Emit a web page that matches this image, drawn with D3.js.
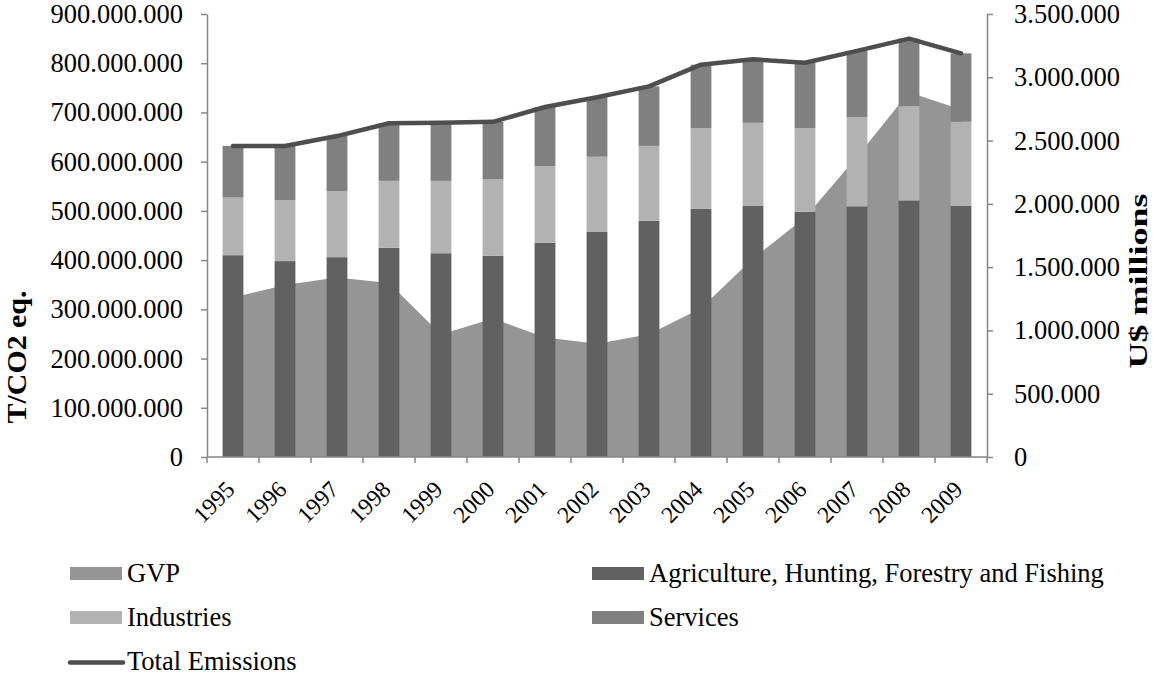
<!DOCTYPE html>
<html>
<head>
<meta charset="utf-8">
<script src="https://cdn.jsdelivr.net/npm/d3@7"></script>
<style>
  html, body { margin: 0; padding: 0; background: #fff; }
  svg { display: block; font-family: "Liberation Serif", "Times New Roman", Times, serif; }
</style>
</head>
<body>
<svg id="chart" width="1153" height="678"></svg>
<script>
// ---- Data ----
const years = ["1995","1996","1997","1998","1999","2000","2001","2002","2003","2004","2005","2006","2007","2008","2009"];
// Emissions by sector, T/CO2 eq.
const agriculture = [410000000, 398000000, 406000000, 425000000, 414000000, 409000000, 435000000, 458000000, 480000000, 504000000, 510000000, 498000000, 509000000, 521000000, 510000000];
const industries  = [117000000, 124000000, 134000000, 136000000, 147000000, 155000000, 156000000, 152000000, 152000000, 164000000, 169000000, 170000000, 181000000, 192000000, 171000000];
const services    = [105000000, 110000000, 112000000, 117000000, 118000000, 117000000, 120000000, 121000000, 121000000, 129000000, 129000000, 133000000, 135000000, 137000000, 139000000];
const totalEmissions = [632000000, 632000000, 652000000, 678000000, 679000000, 681000000, 711000000, 731000000, 753000000, 797000000, 808000000, 801000000, 825000000, 850000000, 820000000];
// Gross value of production, U$ millions (secondary axis)
const gvp = [1260000, 1359000, 1418000, 1374000, 968000, 1094000, 944000, 895000, 969000, 1176000, 1568000, 1892000, 2373000, 2881000, 2746000];
const leftTicks  = [0, 100000000, 200000000, 300000000, 400000000, 500000000, 600000000, 700000000, 800000000, 900000000];
const rightTicks = [0, 500000, 1000000, 1500000, 2000000, 2500000, 3000000, 3500000];
const seriesNames = ["GVP", "Agriculture, Hunting, Forestry and Fishing", "Industries", "Services", "Total Emissions"];

// ---- Styles ----
const FONT = '"Liberation Serif", "Times New Roman", Times, serif';
const C = {
  gvp: "#959595", agri: "#616161", ind: "#b2b2b2", serv: "#808080",
  line: "#4e4e4e", axis: "#868686"
};

const svg = d3.select("#chart");
svg.append("rect").attr("width", 1153).attr("height", 678).attr("fill", "#fff");

const L = 207, R = 987, T = 14, B = 457;

const x = d3.scaleBand().domain(years).range([L, R]).paddingInner(0.6).paddingOuter(0.3);
const xCell = d3.scaleBand().domain(years).range([L, R]).padding(0);
const cx = d => xCell(d) + xCell.bandwidth() / 2;
const yL = d3.scaleLinear().domain([0, 900000000]).range([B, T]);
const yR = d3.scaleLinear().domain([0, 3500000]).range([B, T]);

const loc = d3.formatLocale({decimal: ",", thousands: ".", grouping: [3], currency: ["", ""]});
const fmt = loc.format(",");

// ---- GVP area (secondary axis) ----
const gvpData = years.map((y, i) => ({year: y, v: gvp[i]}));
svg.append("path")
  .datum(gvpData)
  .attr("fill", C.gvp)
  .attr("d", d3.area().x(d => cx(d.year)).y0(yR(0)).y1(d => yR(d.v)));

// ---- Stacked bars ----
const stackRows = years.map((y, i) => ({year: y, agri: agriculture[i], ind: industries[i], serv: services[i]}));
const stack = d3.stack().keys(["agri", "ind", "serv"])(stackRows);
const colors = {agri: C.agri, ind: C.ind, serv: C.serv};
svg.append("g").selectAll("g").data(stack).join("g")
  .attr("fill", s => colors[s.key])
  .selectAll("rect").data(s => s).join("rect")
  .attr("x", d => x(d.data.year))
  .attr("width", x.bandwidth())
  .attr("y", d => yL(d[1]))
  .attr("height", d => yL(d[0]) - yL(d[1]));

// ---- Total emissions line ----
svg.append("path")
  .datum(years.map((y, i) => ({year: y, v: totalEmissions[i]})))
  .attr("fill", "none")
  .attr("stroke", C.line)
  .attr("stroke-width", 4.5)
  .attr("stroke-linecap", "round")
  .attr("stroke-linejoin", "round")
  .attr("d", d3.line().x(d => cx(d.year)).y(d => yL(d.v)));

// ---- Axes ----
function styleAxis(g) {
  g.attr("font-family", FONT);
  g.select(".domain").attr("stroke", C.axis).attr("stroke-width", 1.5);
  g.selectAll(".tick line").attr("stroke", C.axis).attr("stroke-width", 1.5);
  g.selectAll(".tick text").attr("fill", "#000").attr("font-size", 26.5);
}

const gL = svg.append("g").attr("transform", `translate(${L},0)`)
  .call(d3.axisLeft(yL).tickValues(leftTicks).tickFormat(fmt).tickSize(6).tickSizeOuter(0).tickPadding(18));
styleAxis(gL);

const gR = svg.append("g").attr("transform", `translate(${R},0)`)
  .call(d3.axisRight(yR).tickValues(rightTicks).tickFormat(fmt).tickSize(6).tickSizeOuter(0).tickPadding(21));
styleAxis(gR);

// x axis: tick marks at category boundaries
const gX = svg.append("g").attr("transform", `translate(0,${B})`);
gX.append("line").attr("x1", L).attr("x2", R).attr("y1", 0).attr("y2", 0)
  .attr("stroke", C.axis).attr("stroke-width", 1.5);
const boundaries = years.map(y => xCell(y)).concat([xCell(years[years.length - 1]) + xCell.bandwidth()]);
gX.selectAll("line.tk").data(boundaries).join("line").attr("class", "tk")
  .attr("x1", d => d).attr("x2", d => d).attr("y1", 0).attr("y2", 6)
  .attr("stroke", C.axis).attr("stroke-width", 1.5);
gX.selectAll("text").data(years).join("text")
  .attr("transform", d => `translate(${cx(d) + 3},${34}) rotate(-45)`)
  .attr("text-anchor", "end")
  .attr("font-size", 23.5)
  .attr("fill", "#000")
  .text(d => d);

// ---- Axis titles ----
svg.append("text")
  .attr("transform", "translate(26,357) rotate(-90)")
  .attr("text-anchor", "middle")
  .attr("font-size", 27).attr("font-weight", "bold")
  .attr("textLength", 133).attr("lengthAdjust", "spacingAndGlyphs")
  .text("T/CO2 eq.");
svg.append("text")
  .attr("transform", "translate(1147,281) rotate(-90)")
  .attr("text-anchor", "middle")
  .attr("font-size", 26).attr("font-weight", "bold")
  .attr("textLength", 175).attr("lengthAdjust", "spacingAndGlyphs")
  .text("U$ millions");

// ---- Legend ----
const legendItems = [
  {name: seriesNames[0], col: 0, row: 0, type: "rect", color: C.gvp},
  {name: seriesNames[1], col: 1, row: 0, type: "rect", color: C.agri},
  {name: seriesNames[2], col: 0, row: 1, type: "rect", color: C.ind},
  {name: seriesNames[3], col: 1, row: 1, type: "rect", color: C.serv},
  {name: seriesNames[4], col: 0, row: 2, type: "line", color: C.line}
];
const colX = [70, 592];
const rowY = [582, 626, 670];
const lg = svg.append("g").selectAll("g").data(legendItems).join("g")
  .attr("transform", d => `translate(${colX[d.col]},${rowY[d.row]})`);
lg.filter(d => d.type === "rect").append("rect")
  .attr("x", 0).attr("y", -15).attr("width", 52).attr("height", 13)
  .attr("fill", d => d.color);
lg.filter(d => d.type === "line").append("line")
  .attr("x1", 0).attr("x2", 53).attr("y1", -7.5).attr("y2", -7.5)
  .attr("stroke", d => d.color).attr("stroke-width", 4.5).attr("stroke-linecap", "round");
lg.append("text")
  .attr("x", 57)
  .attr("font-size", 26.5)
  .attr("fill", "#000")
  .text(d => d.name);
</script>
</body>
</html>
